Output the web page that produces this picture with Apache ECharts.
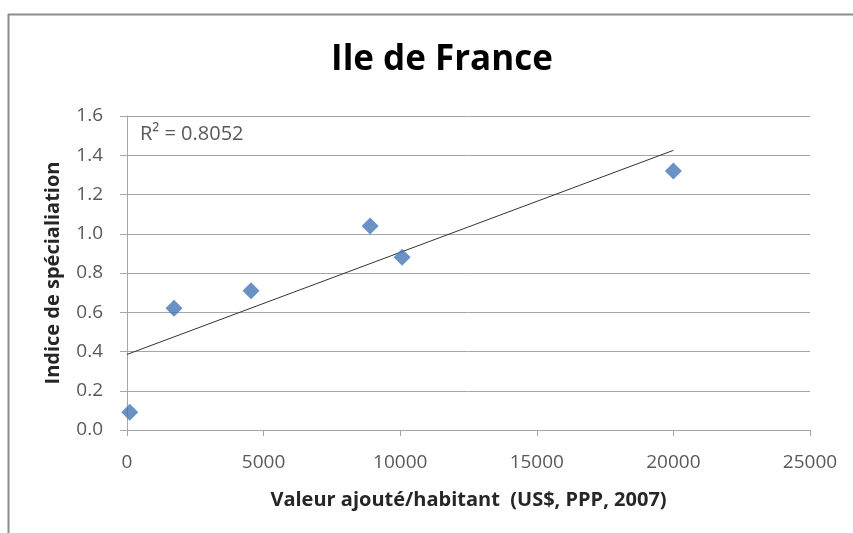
<!DOCTYPE html>
<html>
<head>
<meta charset="utf-8">
<script src="https://cdn.jsdelivr.net/npm/echarts@6/dist/echarts.min.js"></script>
<style>
  html, body { margin: 0; padding: 0; background: #fff; }
  #chart { width: 853px; height: 533px; }
</style>
</head>
<body>
<div id="chart"></div>
<script>
// valeur ajoutée par habitant vs indice de spécialisation
const valeurAjoutee = [100, 1720, 4540, 8900, 10070, 20000];
const indiceSpec = [0.09, 0.62, 0.71, 1.04, 0.88, 1.32];
// courbe de tendance (linéaire), extrémités
const trendX = [0, 20000];
const trendY = [0.385, 1.425];
const r2Label = 'R² = 0.8052';

const chart = echarts.init(document.getElementById('chart'));
const gridCol = '#a6a6a6';
const tickTxt = { color: '#595959', fontFamily: 'Open Sans', fontSize: 19 };
const nameTxt = { fontFamily: 'Open Sans', fontWeight: 'bold', fontSize: 20, color: '#262626' };

chart.setOption({
  backgroundColor: '#fff',
  animation: false,
  title: {
    text: 'Ile de France',
    left: 437, top: 38, textAlign: 'center',
    textStyle: { fontFamily: 'Open Sans', fontWeight: 'bold', fontSize: 35, color: '#000' },
  },
  grid: { left: 127, right: 43, top: 116, bottom: 103 },
  xAxis: {
    type: 'value', min: 0, max: 25000, interval: 5000,
    name: 'Valeur ajouté/habitant  (US$, PPP, 2007)',
    nameLocation: 'middle', nameGap: 60,
    nameTextStyle: nameTxt,
    axisLine: { lineStyle: { color: gridCol } },
    axisTick: { show: true, length: 6, lineStyle: { color: gridCol } },
    axisLabel: { ...tickTxt, margin: 23, formatter: (v) => String(v) },
    splitLine: { show: false },
  },
  yAxis: {
    type: 'value', min: 0, max: 1.6, interval: 0.2,
    name: 'Indice de spécialiation',
    nameLocation: 'middle', nameGap: 64,
    nameTextStyle: nameTxt,
    axisLine: { show: true, lineStyle: { color: gridCol } },
    axisTick: { show: true, length: 7, lineStyle: { color: gridCol } },
    axisLabel: { ...tickTxt, margin: 24, formatter: (v) => v.toFixed(1) },
    splitLine: { show: true, lineStyle: { color: gridCol, width: 1 } },
  },
  series: [
    {
      type: 'scatter',
      symbol: 'diamond',
      symbolSize: 17,
      itemStyle: { color: '#4677b6' },
      data: valeurAjoutee.map((x, i) => [x, indiceSpec[i]]),
      z: 3,
    },
    {
      type: 'line',
      data: trendX.map((x, i) => [x, trendY[i]]),
      showSymbol: false,
      lineStyle: { color: '#333', width: 1 },
      z: 2,
    },
  ],
  graphic: [
    { type: 'line', shape: { x1: 8.5, y1: 14, x2: 8.5, y2: 533 }, style: { stroke: '#8c8c8c', lineWidth: 2 } },
    { type: 'line', shape: { x1: 8, y1: 14.5, x2: 853, y2: 14.5 }, style: { stroke: '#8c8c8c', lineWidth: 2 } },
    {
      type: 'text', left: 140, top: 124,
      style: { text: r2Label, fill: '#595959', font: '20px "Open Sans"' },
    },
  ],
});
</script>
</body>
</html>
